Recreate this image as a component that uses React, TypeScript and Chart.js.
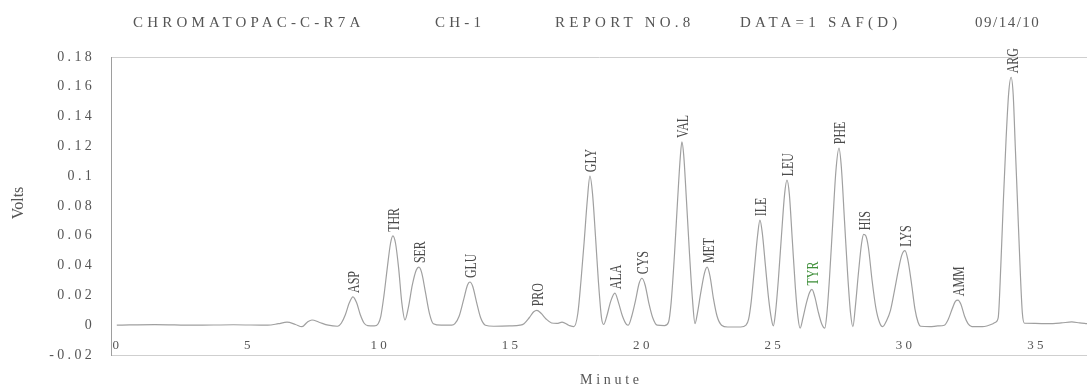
import React, { useEffect, useRef } from 'react';
import { Chart, registerables } from 'chart.js';

Chart.register(...registerables);

// Retention time (minutes) of each sample of the trace
const minutes = [
  0.05, 1.5, 3.0, 4.5, 5.8, 6.2, 6.53, 6.85, 7.1, 7.3, 7.48, 7.75, 8.1, 8.45,
  8.6, 8.75, 8.9, 9.04, 9.18, 9.32, 9.46, 9.6, 9.85, 10.0,
  10.1, 10.22, 10.35, 10.47, 10.56, 10.66, 10.78, 10.9, 11.02,
  11.15, 11.3, 11.45, 11.55, 11.66, 11.8, 11.95, 12.1, 12.4, 12.8,
  12.92, 13.08, 13.25, 13.4, 13.49, 13.6, 13.75, 13.9, 14.08, 14.4, 15.0, 15.4,
  15.55, 15.75, 15.92, 16.04, 16.2, 16.4, 16.6, 16.8, 17.0, 17.25, 17.45,
  17.6, 17.72, 17.84, 17.96, 18.06, 18.16, 18.27, 18.38, 18.5, 18.58,
  18.7, 18.85, 19.01, 19.15, 19.3, 19.45, 19.52,
  19.65, 19.8, 19.93, 20.04, 20.16, 20.3, 20.45, 20.62, 20.9,
  21.05, 21.15, 21.28, 21.4, 21.5, 21.56, 21.63, 21.73, 21.85, 21.96, 22.06,
  22.15, 22.28, 22.42, 22.52, 22.63, 22.76, 22.9, 23.07, 23.3, 23.8, 24.0,
  24.1, 24.2, 24.32, 24.44, 24.53, 24.62, 24.74, 24.86, 24.97, 25.04,
  25.12, 25.23, 25.35, 25.47, 25.56, 25.65, 25.76, 25.88, 25.98, 26.06,
  26.17, 26.3, 26.42, 26.51, 26.62, 26.75, 26.88, 27.0,
  27.08, 27.18, 27.3, 27.42, 27.54, 27.63, 27.75, 27.87, 27.98, 28.07,
  28.16, 28.28, 28.4, 28.48, 28.56, 28.66, 28.8, 28.94, 29.08, 29.2,
  29.35, 29.5, 29.65, 29.8, 29.93, 30.05, 30.16, 30.3, 30.43, 30.55, 30.65, 31.0, 31.3,
  31.55, 31.7, 31.85, 31.97, 32.07, 32.18, 32.32, 32.45, 32.6, 33.0, 33.4, 33.5,
  33.6, 33.7, 33.8, 33.9, 34.0, 34.09, 34.17, 34.25, 34.34, 34.43, 34.52, 34.6,
  35.0, 35.5, 36.0, 36.4, 36.7, 36.98,
];

// Detector signal (Volts) at each sample
const volts = [
  0.0, 0.0004, 0.0, 0.0003, 0.0, 0.001, 0.002, 0.0005, -0.001, 0.002, 0.0035, 0.002, 0.0, -0.0007,
  0.0015, 0.007, 0.015, 0.019, 0.015, 0.007, 0.0015, -0.0003, -0.0005, 0.001,
  0.006, 0.02, 0.039, 0.055, 0.06, 0.055, 0.038, 0.015, 0.0035,
  0.012, 0.027, 0.037, 0.039, 0.035, 0.022, 0.008, 0.001, 0.0, 0.0,
  0.001, 0.006, 0.017, 0.027, 0.029, 0.026, 0.015, 0.005, 0.0, -0.0007, -0.0005, 0.0,
  0.001, 0.005, 0.009, 0.01, 0.008, 0.004, 0.0015, 0.0012, 0.002, 0.0, -0.001,
  0.008, 0.03, 0.056, 0.084, 0.1, 0.088, 0.06, 0.03, 0.005, 0.0005,
  0.006, 0.016, 0.0215, 0.015, 0.006, 0.0005, 0.0,
  0.006, 0.017, 0.028, 0.0315, 0.027, 0.015, 0.005, 0.0, -0.0003,
  0.002, 0.015, 0.048, 0.085, 0.113, 0.123, 0.114, 0.085, 0.048, 0.018, 0.001,
  0.008, 0.022, 0.035, 0.039, 0.033, 0.018, 0.006, 0.0, -0.0012, -0.0012, 0.0,
  0.004, 0.016, 0.038, 0.06, 0.0705, 0.062, 0.04, 0.018, 0.004, -0.0005,
  0.008, 0.03, 0.06, 0.088, 0.0973, 0.088, 0.058, 0.025, 0.005, -0.002,
  0.005, 0.015, 0.022, 0.024, 0.019, 0.009, 0.001, -0.002,
  0.008, 0.032, 0.068, 0.103, 0.1188, 0.106, 0.07, 0.034, 0.008, -0.001,
  0.012, 0.035, 0.055, 0.061, 0.06, 0.052, 0.03, 0.012, 0.002, -0.001,
  0.003, 0.01, 0.023, 0.037, 0.047, 0.05, 0.044, 0.028, 0.011, 0.002, -0.0007, -0.001, -0.0005,
  0.0, 0.004, 0.011, 0.016, 0.0168, 0.014, 0.006, 0.001, -0.001, -0.001, 0.001, 0.002,
  0.005, 0.04, 0.085, 0.125, 0.156, 0.1664, 0.155, 0.12, 0.08, 0.04, 0.008, 0.0013,
  0.0012, 0.001, 0.0015, 0.0022, 0.0015, 0.001,
];

// Peak annotations
const peakNames = ['ASP', 'THR', 'SER', 'GLU', 'PRO', 'GLY', 'ALA', 'CYS', 'VAL', 'MET', 'ILE', 'LEU', 'TYR', 'PHE', 'HIS', 'LYS', 'AMM', 'ARG'];
const peakMinutes = [9.04, 10.56, 11.55, 13.49, 16.04, 18.06, 19.01, 20.04, 21.56, 22.52, 24.53, 25.56, 26.51, 27.54, 28.48, 30.05, 32.07, 34.09];
const peakVolts = [0.019, 0.06, 0.039, 0.029, 0.01, 0.1, 0.0215, 0.0315, 0.123, 0.039, 0.0705, 0.0973, 0.024, 0.1188, 0.061, 0.05, 0.0168, 0.1664];

// Axis ticks
const xTickValues = [0, 5, 10, 15, 20, 25, 30, 35];
const yTickValues = [-0.02, 0, 0.02, 0.04, 0.06, 0.08, 0.1, 0.12, 0.14, 0.16, 0.18];

// Header / titles
const headerTexts = ['CHROMATOPAC-C-R7A', 'CH-1', 'REPORT NO.8', 'DATA=1 SAF(D)', '09/14/10'];
const xTitle = 'Minute';
const yTitle = 'Volts';

const HEADER_X = [133, 435, 555, 740, 975];
const HEADER_SPACING = [4.2, 4.2, 4.2, 4.2, 1.5];
const SERIF = '"Liberation Serif", "Times New Roman", serif';

const textPlugin = {
  id: 'chromText',
  beforeDraw(chart: any) {
    chart.ctx.letterSpacing = '3.3px';
  },
  afterDatasetsDraw(chart: any) {
    const { ctx, scales } = chart;
    const xs = scales.x;
    const ys = scales.y;
    ctx.save();
    ctx.letterSpacing = '0px';
    ctx.font = `17px ${SERIF}`;
    ctx.textAlign = 'left';
    ctx.textBaseline = 'middle';
    peakNames.forEach((name, i) => {
      const px = xs.getPixelForValue(peakMinutes[i]) + 2;
      const py = ys.getPixelForValue(peakVolts[i]) - 4;
      ctx.save();
      ctx.translate(px, py);
      ctx.rotate(-Math.PI / 2);
      ctx.scale(0.7, 1);
      ctx.fillStyle = name === 'TYR' ? '#3f8f3a' : '#4a4a4a';
      ctx.fillText(name, 0, 0);
      ctx.restore();
    });
    ctx.restore();
  },
  afterDraw(chart: any) {
    const { ctx } = chart;
    ctx.save();
    ctx.fillStyle = '#555';
    ctx.textAlign = 'left';
    ctx.textBaseline = 'alphabetic';
    ctx.font = `15px ${SERIF}`;
    headerTexts.forEach((t, i) => {
      ctx.letterSpacing = `${HEADER_SPACING[i]}px`;
      ctx.fillText(t, HEADER_X[i], 27);
    });
    ctx.font = `14px ${SERIF}`;
    ctx.letterSpacing = '3.7px';
    ctx.fillText(xTitle, 580, 384);
    ctx.letterSpacing = '0px';
    ctx.font = `16px ${SERIF}`;
    ctx.translate(23, 203);
    ctx.rotate(-Math.PI / 2);
    ctx.textAlign = 'center';
    ctx.fillText(yTitle, 0, 0);
    ctx.restore();
    ctx.letterSpacing = '0px';
  },
};

export default function App() {
  const canvasRef = useRef<HTMLCanvasElement | null>(null);

  useEffect(() => {
    const canvas = canvasRef.current;
    if (!canvas) return;
    const chart = new Chart(canvas, {
      type: 'line',
      data: {
        datasets: [
          {
            data: minutes.map((m, i) => ({ x: m, y: volts[i] })),
            borderColor: '#a0a0a0',
            borderWidth: 1.2,
            pointRadius: 0,
            fill: false,
            cubicInterpolationMode: 'monotone',
          },
        ],
      },
      options: {
        animation: false,
        responsive: false,
        maintainAspectRatio: false,
        layout: { padding: { top: 57, left: 0, right: 0, bottom: 0 } },
        plugins: { legend: { display: false }, tooltip: { enabled: false }, title: { display: false } },
        scales: {
          x: {
            type: 'linear',
            min: -0.17,
            max: 36.98,
            afterBuildTicks: (s: any) => {
              s.ticks = xTickValues.map((v) => ({ value: v }));
            },
            afterFit: (s: any) => {
              s.height = 35;
            },
            grid: { display: false, drawTicks: false },
            border: { display: true, color: '#cfcfcf', width: 1 },
            ticks: {
              mirror: true,
              padding: 2,
              labelOffset: 2,
              color: '#555',
              maxRotation: 0,
              autoSkip: false,
              font: { family: SERIF, size: 13 },
              callback: (v: any) => String(v),
            },
          },
          y: {
            type: 'linear',
            min: -0.02,
            max: 0.18,
            afterBuildTicks: (s: any) => {
              s.ticks = yTickValues.map((v) => ({ value: v }));
            },
            afterFit: (s: any) => {
              s.width = 111;
            },
            grid: {
              drawTicks: false,
              lineWidth: 1,
              color: (c: any) => (c.tick && Math.abs(c.tick.value - 0.18) < 1e-9 ? '#cfcfcf' : 'rgba(0,0,0,0)'),
            },
            border: { display: true, color: '#9e9e9e', width: 1 },
            ticks: {
              padding: 16,
              color: '#555',
              font: { family: SERIF, size: 14 },
              callback: (v: any) => String(Math.round(Number(v) * 100) / 100),
            },
          },
        },
      },
      plugins: [textPlugin],
    } as any);
    return () => chart.destroy();
  }, []);

  return (
    <div style={{ position: 'fixed', left: 0, top: 0, width: 1087, height: 390, background: '#fff' }}>
      <canvas ref={canvasRef} width={1087} height={390} style={{ width: 1087, height: 390, display: 'block' }} />
    </div>
  );
}
